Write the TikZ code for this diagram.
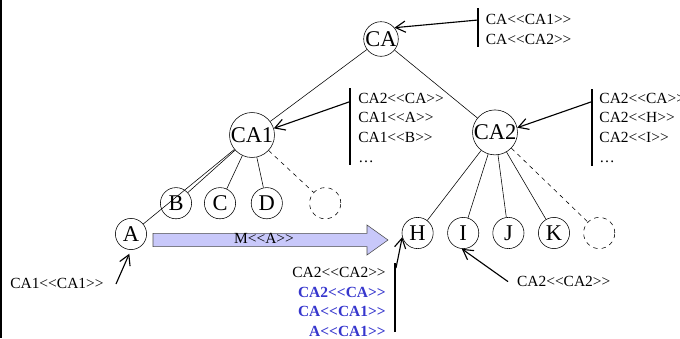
\documentclass[tikz,border=0pt]{standalone}
\usepackage{fontspec}
\setmainfont{Liberation Serif}[Ligatures=TeXOff]
\usetikzlibrary{arrows.meta}
\usetikzlibrary{positioning}
\tikzset{>={Straight Barb[length=7pt,width=8pt]}}
\definecolor{noteBlue}{RGB}{55,55,205}
\definecolor{arrowFill}{RGB}{200,200,250}
\colorlet{arrowLine}{black!70}
\tikzset{
  cls/.style={circle,draw,thin,minimum size=0.78cm,inner sep=0pt,font=\fontsize{16}{16}\selectfont},
  ghost/.style={cls,dashed},
  note/.style={inner sep=0pt,align=left,font=\fontsize{11}{14}\selectfont},
  bar/.style={line width=1.6pt},
  pointer/.style={->,line width=0.8pt}
}

\begin{document}
\begin{tikzpicture}
\useasboundingbox (0,0) rectangle (17,-8.45);
\draw[line width=1pt] (0.02,0) -- (0.02,-8.45);% frame edge

% classes
\node[cls] (ca) at (9.525,-0.975) {CA};
\node[cls] (ca1) at (6.3,-3.375) {CA1};
\node[cls] (ca2) at (12.375,-3.31) {CA2};
\node[cls] (b) at (4.4,-5.08) {B};
\node[cls] (c) at (5.5,-5.08) {C};
\node[cls] (d) at (6.67,-5.08) {D};
\node[ghost] (e1) at (8.13,-5.08) {};
\node[cls] (a) at (3.275,-5.85) {A};
\node[cls] (h) at (10.44,-5.825) {H};
\node[cls] (i) at (11.58,-5.825) {I};
\node[cls] (j) at (12.71,-5.825) {J};
\node[cls] (k) at (13.85,-5.825) {K};
\node[ghost] (e2) at (14.98,-5.825) {};

\draw (ca) -- (ca1);
\draw (ca) -- (ca2);
\draw (ca1) -- (a);
\draw (ca1) -- (b);
\draw (ca1) -- (c);
\draw (ca1) -- (d);
\draw[dashed] (ca1) -- (e1);
\draw (ca2) -- (h);
\draw (ca2) -- (i);
\draw (ca2) -- (j);
\draw (ca2) -- (k);
\draw[dashed] (ca2) -- (e2);

% stereotype lists
\draw[bar] (11.95,-0.2) -- (11.95,-1.175);
\coordinate (topbar) at (11.95,-0.5);
\node[note,anchor=west] (canote) at (12.14,-0.74) {CA<<CA1>>\\CA<<CA2>>};
\draw[pointer] (topbar) -- (ca.40);

\draw[bar] (8.75,-2.2) -- (8.75,-4.125);
\coordinate (ca1bar) at (8.75,-2.54);
\node[note,anchor=west] (ca1note) at (8.95,-3.19) {CA2<<CA>>\\CA1<<A>>\\CA1<<B>>\\\ldots};
\draw[pointer] (ca1bar) -- (ca1.17);

\draw[bar] (14.8,-2.225) -- (14.8,-4.15);
\coordinate (ca2bar) at (14.8,-2.54);
\node[note,anchor=west] (ca2note) at (14.98,-3.19) {CA2<<CA>>\\CA2<<H>>\\CA2<<I>>\\\ldots};
\draw[pointer] (ca2bar) -- (ca2.12);

% move of A
\draw[arrowLine,fill=arrowFill] (3.825,-5.833) -- (9.175,-5.833) -- (9.175,-5.625) -- (9.7,-6)
  -- (9.175,-6.375) -- (9.175,-6.167) -- (3.825,-6.167) -- cycle;
\node[note] (move) at (6.6,-5.97) {M<<A>>};

\node[note,anchor=west] (anote) at (0.25,-7.075) {CA1<<CA1>>};
\coordinate (atail) at (2.9,-7.1);
\draw[pointer,shorten >=3pt] (atail) -- (a.south);

\draw[bar] (9.875,-8.3) -- (9.875,-6.575);
\coordinate (hbar) at (9.9,-6.7);
\node[note,align=right,anchor=east] (hnote) at (9.65,-7.55) {CA2<<CA2>>\\
  \textbf{\color{noteBlue}CA2<<CA>>}\\\textbf{\color{noteBlue}CA<<CA1>>}\\\textbf{\color{noteBlue}A<<CA1>>}};
\draw[pointer] (hbar) -- (h.195);

\node[note,anchor=west] (inote) at (12.92,-7.04) {CA2<<CA2>>};
\coordinate (itail) at (12.7,-7.04);
\draw[pointer] (itail) -- (i.265);
\end{tikzpicture}
\end{document}
